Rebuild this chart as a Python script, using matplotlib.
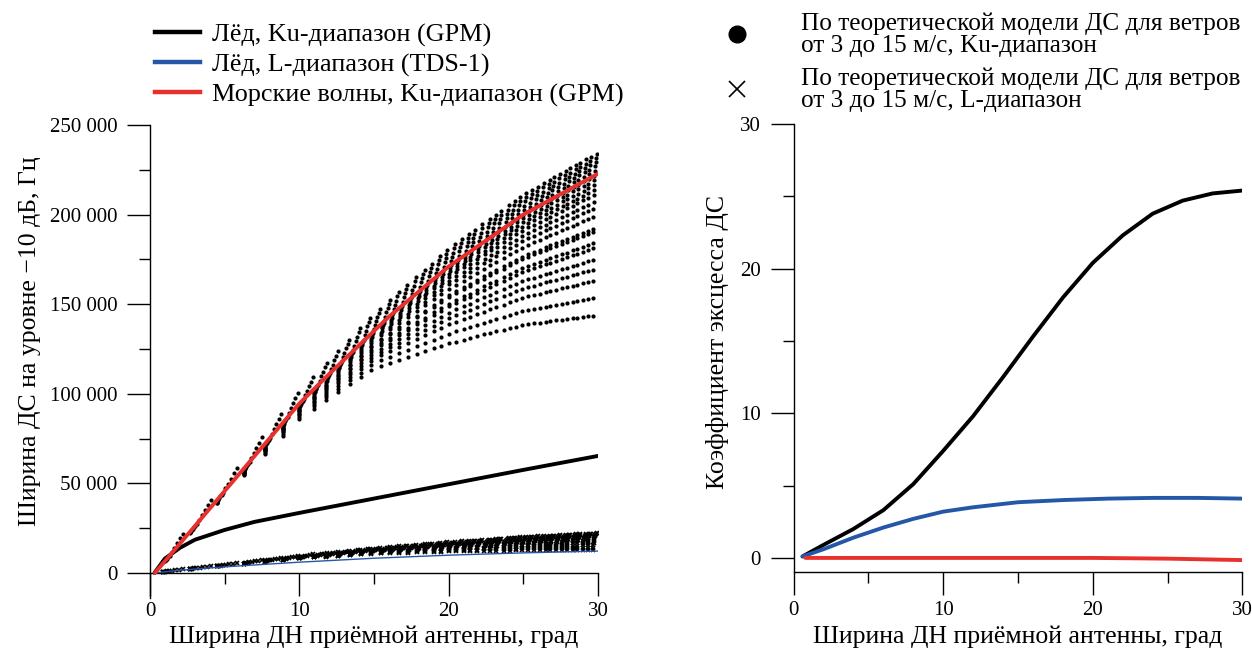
import matplotlib
matplotlib.use('Agg')
import matplotlib.pyplot as plt
from matplotlib.lines import Line2D
from matplotlib.ticker import MultipleLocator, FuncFormatter
import numpy as np

plt.rcParams['font.family'] = ['Liberation Serif', 'DejaVu Serif']

BLACK = '#000000'
BLUE = '#2458a6'
RED = '#e8302c'

# --- left panel: spectrum width at -10 dB, Hz
ice_ku_x = [0.3, 1, 2, 3, 5, 7, 10, 15, 20, 25, 30]
ice_ku_y = [0, 8000, 14000, 18500, 24000, 28500, 33500, 41500, 49500, 57500, 65300]
ice_l_x = [0.3, 2, 5, 10, 15, 20, 25, 30]
ice_l_y = [0, 1500, 3400, 6000, 8200, 9900, 11200, 12200]
sea_ku_x = [0.33, 3, 5, 8, 10, 12, 16, 20, 25, 30]
sea_ku_y = [0, 26100, 45700, 75000, 94500, 111000, 143000, 171000, 200000, 222800]

# theoretical model (winds 3..15 m/s): row curves in kHz at knot beamwidths
model_knots = [1, 2, 4.5, 10, 15, 20, 25, 30]
model_cols = [0.9, 2.7, 4.5, 6.3, 7.7, 8.9, 10.0, 11.0, 11.8, 12.6, 13.4, 14.1,
              14.8, 15.5, 16.1, 16.7, 17.3, 17.9, 18.4, 19.0, 19.5, 20.0, 20.5,
              21.0, 21.4, 21.9, 22.4, 22.8, 23.2, 23.7, 24.1, 24.5, 24.9, 25.3,
              25.7, 26.1, 26.5, 26.8, 27.2, 27.6, 27.9, 28.3, 28.6, 29.0, 29.3, 29.7]
top_shift = [1.3, 1.4, 1.3, 0.9, 0.6, 0.4, 0.3, 0.2]

ku_rows = [
    [10.1, 19.8, 45.2, 101.5, 144.5, 180.9, 211.0, 234.5],
    [9.5, 19.2, 44.4, 100.2, 142.9, 179.1, 208.9, 232.3],
    [8.8, 18.5, 43.5, 98.8, 141.3, 177.1, 206.8, 230.0],
    [8.1, 17.8, 42.7, 97.4, 139.6, 175.2, 204.6, 227.7],
    [7.4, 17.1, 41.8, 96.0, 137.8, 173.1, 202.4, 225.3],
    [6.6, 16.3, 40.8, 94.5, 136.0, 171.0, 200.0, 222.8],
    [6.6, 16.3, 40.7, 94.2, 135.3, 169.6, 198.0, 220.2],
    [6.6, 16.3, 40.7, 93.9, 134.5, 168.1, 195.9, 217.5],
    [6.6, 16.3, 40.6, 93.6, 133.8, 166.6, 193.7, 214.7],
    [6.6, 16.3, 40.6, 93.3, 133.0, 165.1, 191.5, 211.9],
    [6.6, 16.3, 40.5, 92.9, 132.0, 163.0, 188.5, 208.1],
    [6.6, 16.3, 40.4, 92.5, 130.9, 161.0, 185.6, 204.4],
    [6.6, 16.2, 40.3, 92.1, 129.7, 158.5, 182.0, 199.8],
    [6.6, 16.2, 40.2, 91.4, 127.9, 154.9, 176.9, 193.2],
    [6.6, 16.2, 40.1, 91.2, 127.4, 153.9, 175.5, 191.4],
    [6.6, 16.2, 40.0, 90.5, 125.6, 150.3, 170.4, 184.9],
    [6.6, 16.2, 39.9, 90.2, 124.8, 148.8, 168.1, 182.0],
    [6.6, 16.2, 39.8, 89.5, 123.0, 145.3, 163.1, 175.6],
    [6.6, 16.1, 39.6, 88.9, 121.5, 142.2, 158.8, 170.0],
    [6.6, 16.1, 39.5, 88.2, 119.7, 138.7, 153.7, 163.5],
    [6.6, 16.1, 39.3, 87.2, 117.1, 133.5, 146.3, 154.0],
    [6.6, 16.1, 39.1, 86.1, 114.3, 128.1, 138.5, 144.0],
]
ku_row_frac = [1.0, 0.85, 0.7, 0.55, 0.42, 0.32, 0.24, 0.17, 0.11, 0.06, 0.03,
               0, 0, 0, 0, 0, 0, 0, 0, 0, 0, 0]

l_rows = [
    [1.0, 1.9, 4.3, 9.6, 13.6, 17.1, 19.9, 22.1],
    [0.9, 1.8, 4.2, 9.4, 13.4, 16.8, 19.6, 21.7],
    [0.8, 1.7, 4.1, 9.2, 13.1, 16.4, 19.2, 21.2],
    [0.7, 1.6, 4.0, 9.0, 12.8, 16.0, 18.7, 20.6],
    [0.7, 1.6, 3.9, 8.9, 12.6, 15.6, 18.1, 19.9],
    [0.7, 1.6, 3.9, 8.8, 12.4, 15.1, 17.4, 19.0],
    [0.6, 1.5, 3.8, 8.6, 12.1, 14.6, 16.7, 18.0],
    [0.6, 1.5, 3.8, 8.5, 11.8, 14.0, 15.8, 16.8],
    [0.6, 1.5, 3.7, 8.4, 11.5, 13.3, 14.8, 15.5],
    [0.6, 1.5, 3.7, 8.2, 11.1, 12.6, 13.7, 14.0],
    [0.6, 1.5, 3.7, 8.1, 10.8, 12.0, 12.6, 12.6],
]
l_row_frac = [1.0, 0.8, 0.6, 0.45, 0.3, 0.2, 0.1, 0.05, 0, 0, 0]

# --- right panel: kurtosis of the Doppler spectrum
kurt_ku_x = [0.6, 2, 4, 6, 8, 10, 12, 14, 16, 18, 20, 22, 24, 26, 28, 30]
kurt_ku_y = [0.1, 0.9, 2.0, 3.3, 5.1, 7.4, 9.8, 12.5, 15.3, 18.0, 20.4, 22.3, 23.8, 24.7, 25.2, 25.4]
kurt_l_x = [0.6, 2, 4, 6, 8, 10, 12, 15, 18, 21, 24, 27, 30]
kurt_l_y = [0.1, 0.6, 1.4, 2.1, 2.7, 3.2, 3.5, 3.85, 4.0, 4.1, 4.15, 4.15, 4.1]
kurt_sea_x = [0.8, 5, 10, 15, 20, 25, 30]
kurt_sea_y = [0.0, 0.0, 0.0, 0.0, 0.0, -0.05, -0.15]

XLABEL = 'Ширина ДН приёмной антенны, град'
LABEL_FS = 18.5


def cloud(rows, fracs):
    xs, ys = [], []
    cols = np.array(model_cols)
    shift = np.interp(cols, model_knots, top_shift)
    for row, fr in zip(rows, fracs):
        x = cols + fr * shift
        xs.append(x)
        ys.append(np.interp(x, model_knots, row) * 1000)
    return np.concatenate(xs), np.concatenate(ys)


fig = plt.figure(figsize=(12.52, 6.54), dpi=100)
ax1 = fig.add_axes([0.1198, 0.0856, 0.3578, 0.7233])
ax2 = fig.add_axes([0.6338, 0.1248, 0.3586, 0.6856])

# left panel
kx, ky = cloud(ku_rows, ku_row_frac)
ax1.plot(kx, ky, 'o', color=BLACK, ms=3.0, mew=0, zorder=2)
lx, ly = cloud(l_rows, l_row_frac)
ax1.plot(lx, ly, 'x', color=BLACK, ms=3.5, mew=1.2, zorder=2)
ax1.plot(ice_ku_x, ice_ku_y, color=BLACK, lw=2.8, zorder=3, solid_capstyle='round')
ax1.plot(ice_l_x, ice_l_y, color=BLUE, lw=1.0, zorder=3)
ax1.plot(sea_ku_x, sea_ku_y, color=RED, lw=2.8, zorder=4, solid_capstyle='round')

ax1.set_xlim(0, 30)
ax1.set_ylim(-14000, 250000)
ax1.spines['top'].set_visible(False)
ax1.spines['right'].set_visible(False)
ax1.spines['bottom'].set_position(('data', 0))
ax1.xaxis.set_major_locator(MultipleLocator(10))
ax1.xaxis.set_minor_locator(MultipleLocator(5))
ax1.set_yticks([0, 50000, 100000, 150000, 200000, 250000])
ax1.yaxis.set_minor_locator(MultipleLocator(25000))
ax1.yaxis.set_major_formatter(FuncFormatter(lambda v, p: f'{v:,.0f}'.replace(',', ' ')))
ax1.set_ylabel('Ширина ДС на уровне −10 дБ, Гц', fontsize=LABEL_FS)
ax1.yaxis.set_label_coords(-0.243, 0.542)
ax1.set_xlabel(XLABEL, fontsize=LABEL_FS)
ax1.xaxis.set_label_coords(0.5, -0.0585)

# right panel
ax2.plot(kurt_ku_x, kurt_ku_y, color=BLACK, lw=2.8, solid_capstyle='round')
ax2.plot(kurt_l_x, kurt_l_y, color=BLUE, lw=2.8, solid_capstyle='round')
ax2.plot(kurt_sea_x, kurt_sea_y, color=RED, lw=2.8, solid_capstyle='round')
ax2.set_xlim(0, 30)
ax2.set_ylim(-1, 30)
ax2.spines['top'].set_visible(False)
ax2.spines['right'].set_visible(False)
ax2.xaxis.set_major_locator(MultipleLocator(10))
ax2.xaxis.set_minor_locator(MultipleLocator(5))
ax2.yaxis.set_major_locator(MultipleLocator(10))
ax2.yaxis.set_minor_locator(MultipleLocator(5))
ax2.set_ylabel('Коэффициент эксцесса ДС', fontsize=LABEL_FS)
ax2.yaxis.set_label_coords(-0.144, 0.514)
ax2.set_xlabel(XLABEL, fontsize=LABEL_FS)
ax2.xaxis.set_label_coords(0.5, -0.1185)

for ax in (ax1, ax2):
    for s in ('left', 'bottom'):
        ax.spines[s].set_linewidth(1.0)
    ax.tick_params(which='major', direction='out', length=16.5, width=1.0,
                   labelsize=15)
    ax.tick_params(which='minor', direction='out', length=8, width=1.0)
    ax.tick_params(axis='x', which='major', pad=4.3)
    ax.tick_params(axis='y', which='major', pad=7)

# legends
line_handles = [Line2D([], [], color=c, lw=3.2) for c in (BLACK, BLUE, RED)]
fig.legend(line_handles,
           ['Лёд, Ku-диапазон (GPM)', 'Лёд, L-диапазон (TDS-1)',
            'Морские волны, Ku-диапазон (GPM)'],
           loc='upper left', bbox_to_anchor=(0.1238, 0.965), frameon=False,
           fontsize=18.8, handlelength=1.72, handletextpad=0.46,
           labelspacing=0.25, borderpad=0, borderaxespad=0)

mark_handles = [Line2D([], [], ls='none', marker='o', ms=12, color=BLACK),
                Line2D([], [], ls='none', marker='x', ms=11, mew=1.2, color=BLACK)]
leg2 = fig.legend(mark_handles,
                  ['По теоретической модели ДС для ветров\nот 3 до 15 м/с, Ku-диапазон',
                   'По теоретической модели ДС для ветров\nот 3 до 15 м/с, L-диапазон'],
                  loc='upper left', bbox_to_anchor=(0.5685, 0.981), frameon=False,
                  fontsize=18.2, handlelength=2.0, handletextpad=1.54,
                  labelspacing=0.42, borderpad=0, borderaxespad=0)
for t in leg2.get_texts():
    t.set_linespacing(1.0)

fig.savefig('out.png', dpi=100)
